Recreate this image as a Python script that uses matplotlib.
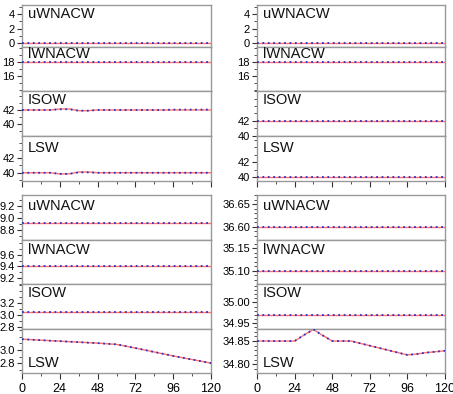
import numpy as np
import matplotlib
matplotlib.use('Agg')
import matplotlib.pyplot as plt
from matplotlib.ticker import MultipleLocator, FixedLocator

plt.rcParams['font.family'] = ['Liberation Sans', 'DejaVu Sans']

# forecast hour
hours = np.arange(0, 121, 6)
names = ['uWNACW', 'lWNACW', 'ISOW', 'LSW']

# top left group (red = solid, blue = dotted)
tl_red = [
    [0.0] * 21,
    [18.0] * 21,
    [42, 42, 42, 42, 42.15, 42.15, 41.9, 41.9, 42, 42, 42, 42, 42, 42, 42, 42, 42, 42, 42, 42, 42],
    [40, 40, 40, 40, 39.85, 39.85, 40.1, 40.1, 40, 40, 40, 40, 40, 40, 40, 40, 40, 40, 40, 40, 40],
]
tl_blue = [
    [0.0] * 21,
    [18.0] * 21,
    [42, 42, 42, 42, 42.1, 42.1, 41.9, 41.9, 42, 42, 42, 42, 42, 42, 42, 42, 42.05, 42.05, 42.05, 42.05, 42.05],
    [40, 40, 40, 40, 39.85, 39.85, 40.05, 40.05, 40, 40, 40, 40, 40, 40, 40, 40, 40, 40, 40, 40, 40],
]

# top right group
tr_red = [[0.0] * 21, [18.0] * 21, [42.0] * 21, [40.0] * 21]
tr_blue = tr_red

# bottom left group
bl_lsw = [3.165, 3.157, 3.15, 3.142, 3.135, 3.127, 3.12, 3.112, 3.105, 3.095, 3.086,
          3.058, 3.03, 3.0, 2.97, 2.94, 2.91, 2.882, 2.855, 2.828, 2.80]
bl_red = [[8.92] * 21, [9.4] * 21, [3.06] * 21, bl_lsw]
bl_blue = bl_red

# bottom right group
br_lsw = [34.85, 34.85, 34.85, 34.85, 34.85, 34.863, 34.875, 34.862, 34.85, 34.85, 34.85,
          34.845, 34.84, 34.835, 34.83, 34.825, 34.82, 34.822, 34.825, 34.827, 34.829]
br_red = [[36.60] * 21, [35.10] * 21, [34.97] * 21, br_lsw]
br_blue = br_red

# y limits, labelled ticks, minor spacing per panel
tl_ylim = [(-0.55, 5.25), (13.9, 20.1), (38.3, 44.7), (38.9, 44.9)]
tl_ticks = [[0, 2, 4], [16, 18], [40, 42], [40, 42]]
tr_ylim = [(-0.55, 5.25), (13.9, 20.1), (40.0, 46.0), (39.5, 45.5)]
tr_ticks = tl_ticks
bl_ylim = [(8.63, 9.38), (9.1, 9.85), (2.77, 3.52), (2.65, 3.32)]
bl_ticks = [[8.8, 9.0, 9.2], [9.2, 9.4, 9.6], [2.8, 3.0, 3.2], [2.8, 3.0]]
br_ylim = [(36.571, 36.67), (35.071, 35.168), (34.935, 35.045), (34.781, 34.876)]
br_ticks = [[36.60, 36.65], [35.10, 35.15], [34.95, 35.00], [34.80, 34.85]]

W, H = 453, 394
fig = plt.figure(figsize=(W / 100, H / 100), dpi=100)

label_y_top = [0.79, 0.84, 0.80, 0.74]
label_y_bot = [0.75, 0.77, 0.80, 0.23]


def draw_group(x0, x1, ybounds, reds, blues, ylims, ticks, minor, bottom_row, fmt):
    for i in range(4):
        top, bot = ybounds[i], ybounds[i + 1]
        ax = fig.add_axes([x0 / W, 1 - bot / H, (x1 - x0) / W, (bot - top) / H])
        ax.plot(hours, reds[i], color='#ff7070', lw=1.0, zorder=2)
        ax.plot(hours, blues[i], color='#3030c0', lw=1.3, ls=(0, (1, 2)), zorder=3)
        ax.set_xlim(0, 120)
        ax.set_ylim(*ylims[i])
        ax.yaxis.set_major_locator(FixedLocator(ticks[i]))
        ax.yaxis.set_minor_locator(MultipleLocator(minor))
        ax.yaxis.set_major_formatter(fmt)
        ax.xaxis.set_major_locator(MultipleLocator(24))
        ax.xaxis.set_minor_locator(MultipleLocator(12))
        for s in ax.spines.values():
            s.set_color('#999999')
            s.set_linewidth(1.0)
        ax.tick_params(axis='y', which='major', direction='out', length=3.5, width=0.8,
                       labelsize=8, pad=1.5, color='#333333')
        ax.tick_params(axis='y', which='minor', direction='out', length=2, width=0.6, color='#333333')
        ax.tick_params(axis='x', which='major', direction='out', length=4, width=0.8,
                       labelsize=9, color='#333333')
        ax.tick_params(axis='x', which='minor', direction='out', length=2.5, width=0.6, color='#333333')
        if i < 3:
            ax.tick_params(axis='x', which='both', bottom=False, labelbottom=False)
        elif not bottom_row:
            ax.tick_params(axis='x', labelbottom=False)
        ty = label_y_bot[i] if bottom_row else label_y_top[i]
        ax.text(0.03, ty, names[i], transform=ax.transAxes, fontsize=10.5,
                va='center', ha='left', color='#111111')


top_b = [5, 47, 91, 136, 181]
bot_b = [195, 240, 284, 329, 373]

draw_group(22, 211, top_b, tl_red, tl_blue, tl_ylim, tl_ticks, 1, False, '{x:.0f}')
draw_group(257, 445, top_b, tr_red, tr_blue, tr_ylim, tr_ticks, 1, False, '{x:.0f}')
draw_group(22, 211, bot_b, bl_red, bl_blue, bl_ylim, bl_ticks, 0.1, True, '{x:.1f}')
draw_group(257, 445, bot_b, br_red, br_blue, br_ylim, br_ticks, 0.01, True, '{x:.2f}')

fig.savefig('out.png', dpi=100)
